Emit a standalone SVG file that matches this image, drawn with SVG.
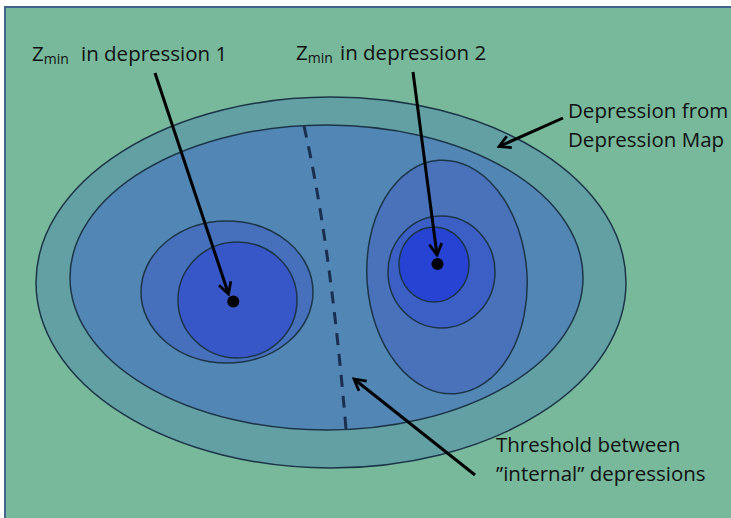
<svg xmlns="http://www.w3.org/2000/svg" width="731" height="518" viewBox="0 0 731 518">
<style>
.bg{fill:#78B99C;stroke:#41658F;stroke-width:2}
.c{stroke:#1B3548;stroke-width:1.5}
.t{font-family:"Open Sans","Liberation Sans",sans-serif;font-size:20.5px;fill:#111}
.sub{font-size:14px}
.ar{stroke:#000;stroke-width:3;fill:none;marker-end:url(#ah)}
</style>
<defs>
<marker id="ah" viewBox="0 0 12 12" refX="10" refY="6" markerWidth="5" markerHeight="5" orient="auto" markerUnits="strokeWidth">
<path d="M1,1 L10,6 L1,11" fill="none" stroke="#000" stroke-width="2.2"/>
</marker>
</defs>
<rect width="731" height="518" fill="#fff"/>
<rect class="bg" x="5" y="7" width="740" height="530"/>
<g id="depression-outer">
<ellipse class="c" cx="331" cy="282.5" rx="295" ry="185.5" fill="#63A0A3"/>
</g>
<g id="depression-inner">
<ellipse class="c" cx="326.5" cy="277.5" rx="256.5" ry="152.5" fill="#5286B4"/>
</g>
<g id="threshold">
<path d="M304,126 Q330,240 346,429" fill="none" stroke="#1A2E50" stroke-width="3" stroke-dasharray="12,9"/>
</g>
<g id="depression1">
<ellipse class="c" cx="227" cy="292" rx="86" ry="71" fill="#4670BC"/>
<ellipse class="c" cx="237.5" cy="300" rx="59.5" ry="58" fill="#3757C8"/>
<circle cx="233.3" cy="301.5" r="6" fill="#000"/>
</g>
<g id="depression2">
<ellipse class="c" cx="447" cy="277" rx="80" ry="117" fill="#4A72BA" transform="rotate(-4 447 277)"/>
<ellipse class="c" cx="441.5" cy="272" rx="53.5" ry="56" fill="#3C5FC5"/>
<ellipse class="c" cx="434" cy="264.5" rx="35" ry="37.5" fill="#2643D3"/>
<circle cx="437.5" cy="264" r="6" fill="#000"/>
</g>
<g id="connectors">
<line class="ar" x1="155" y1="73" x2="228.5" y2="294"/>
<line class="ar" x1="413" y1="72" x2="437" y2="255"/>
<line class="ar" x1="563" y1="118" x2="499" y2="146.5"/>
<line class="ar" x1="475" y1="475" x2="354" y2="379"/>
</g>
<g id="labels">
<text class="t" x="32" y="61">Z<tspan class="sub" dy="3">min</tspan><tspan dy="-3" x="81">in depression 1</tspan></text>
<text class="t" x="296" y="60">Z<tspan class="sub" dy="3">min</tspan><tspan dy="-3" x="340">in depression 2</tspan></text>
<text class="t" x="568" y="118">Depression from</text>
<text class="t" x="568" y="147">Depression Map</text>
<text class="t" x="496" y="452">Threshold between</text>
<text class="t" x="496" y="481">”internal” depressions</text>
</g>
</svg>
